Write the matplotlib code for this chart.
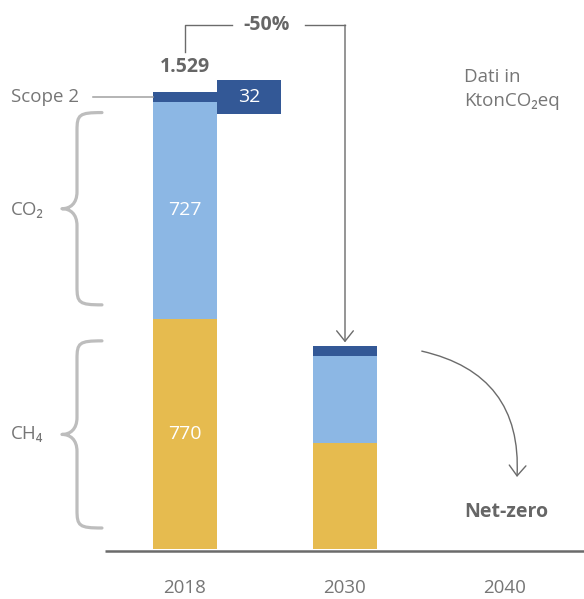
import matplotlib.pyplot as plt
from matplotlib.path import Path
from matplotlib.patches import PathPatch

plt.rcParams['font.family'] = ['Open Sans', 'DejaVu Sans']

# emissions in KtonCO2eq
years = ['2018', '2030', '2040']
bar_years = ['2018', '2030']
ch4 = [770, 355]
co2 = [727, 291]
scope2 = [32, 32]
reduction_label = '-50%'
target_label = 'Net-zero'
unit_label = 'Dati in\nKtonCO\u2082eq'

YELLOW = '#e6bb4f'
LIGHT = '#8cb7e4'
DARK = '#335896'
TEXT = '#767676'
BOLD = '#666666'
LINE = '#6b6b6b'
BRACE = '#bdbdbd'

# data units per pixel
PX = 1 / 160
PY = 1529 / 457


def brace(ax, x_right, x_mid, x_tip, y_top, y_bot):
    ym = (y_top + y_bot) / 2
    verts = [
        (x_right, y_top),
        (x_mid + 2 * PX, y_top), (x_mid, y_top - 2 * PY), (x_mid, y_top - 18 * PY),
        (x_mid, ym + 17 * PY),
        (x_mid, ym + 5 * PY), (x_mid - 7 * PX, ym), (x_tip, ym),
        (x_mid - 7 * PX, ym), (x_mid, ym - 5 * PY), (x_mid, ym - 17 * PY),
        (x_mid, y_bot + 18 * PY),
        (x_mid, y_bot + 2 * PY), (x_mid + 2 * PX, y_bot), (x_right, y_bot),
    ]
    codes = ([Path.MOVETO] + [Path.CURVE4] * 3 + [Path.LINETO] + [Path.CURVE4] * 6
             + [Path.LINETO] + [Path.CURVE4] * 3)
    ax.add_patch(PathPatch(Path(verts, codes), fill=False, edgecolor=BRACE,
                           lw=2.3, capstyle='round', joinstyle='round'))


fig = plt.figure(figsize=(5.84, 5.99), dpi=100)
ax = fig.add_axes([0, 0, 1, 1])
ax.set_xlim(-185 * PX, 399 * PX)
ax.set_ylim(-50 * PY, 549 * PY)
ax.axis('off')

xs = list(range(len(bar_years)))
w = 0.4
bottom2 = [a + b for a, b in zip(ch4, co2)]
totals = [a + b + c for a, b, c in zip(ch4, co2, scope2)]
ax.bar(xs, ch4, width=w, color=YELLOW)
ax.bar(xs, co2, width=w, bottom=ch4, color=LIGHT)
ax.bar(xs, scope2, width=w, bottom=bottom2, color=DARK)

# baseline
ax.plot([-0.5, 3], [-1.5 * PY, -1.5 * PY], color=LINE, lw=1.8, solid_capstyle='butt')

# segment values on the first bar
ax.text(0, ch4[0] / 2, str(ch4[0]), color='white', fontsize=14, ha='center', va='center')
ax.text(0, ch4[0] + co2[0] / 2, str(co2[0]), color='white', fontsize=14, ha='center', va='center')

# scope 2 callout box
s2_mid = bottom2[0] + scope2[0] / 2
ax.bar(w, 34 * PY, width=w, bottom=s2_mid - 17 * PY, color=DARK)
ax.text(w, s2_mid, str(scope2[0]), color='white', fontsize=14, ha='center', va='center')
ax.plot([-0.575, -w / 2], [s2_mid, s2_mid], color='#a0a0a0', lw=1.1)
ax.text(-1.0875, s2_mid, 'Scope 2', color=TEXT, fontsize=13.5, ha='left', va='center')

# total label
total_txt = f'{totals[0]:,}'.replace(',', '.')
ax.text(0, totals[0] + 25 * PY, total_txt, color=BOLD, fontsize=14, fontweight='bold',
        ha='center', va='center')

# -50% bracket down to the 2030 bar
y_br = totals[0] + 67 * PY
ax.plot([0, 0, 0.294], [totals[0] + 40 * PY, y_br, y_br], color=LINE, lw=1.0)
ax.plot([0.75, 1], [y_br, y_br], color=LINE, lw=1.0, solid_capstyle='projecting')
ax.annotate('', xy=(1, totals[1] + 4 * PY), xytext=(1, y_br),
            arrowprops=dict(arrowstyle='->,head_length=0.75,head_width=0.6',
                            color=LINE, lw=1.0, shrinkA=0, shrinkB=0))
ax.text(0.5125, y_br, reduction_label, color=BOLD, fontsize=14, fontweight='bold',
        ha='center', va='center')

# braces for gas components
brace(ax, -0.519, -0.675, -0.769, ch4[0] + co2[0] - 11 * PY, ch4[0] + 14 * PY)
brace(ax, -0.519, -0.675, -0.769, ch4[0] - 22 * PY, 21 * PY)
ax.text(-1.0875, ch4[0] + co2[0] / 2, 'CO\u2082', color=TEXT, fontsize=13.5,
        ha='left', va='center')
ax.text(-1.0875, ch4[0] / 2, 'CH\u2084', color=TEXT, fontsize=13.5, ha='left', va='center')

# path to net-zero
ax.annotate('', xy=(2.075, 241), xytext=(1.48, 662),
            arrowprops=dict(arrowstyle='->,head_length=0.75,head_width=0.6',
                            connectionstyle='arc3,rad=-0.42', color=LINE, lw=1.0,
                            shrinkA=0, shrinkB=0))
ax.text(2.006, 37 * PY, target_label, color=BOLD, fontsize=14, fontweight='bold',
        ha='center', va='center')

ax.text(1.744, 1609, unit_label, color=TEXT, fontsize=13.5, ha='left', va='top',
        linespacing=1.45)

for i, yr in enumerate(years):
    ax.text(i, -39 * PY, yr, color=TEXT, fontsize=13.5, ha='center', va='center')

fig.savefig('out.png', dpi=100)
